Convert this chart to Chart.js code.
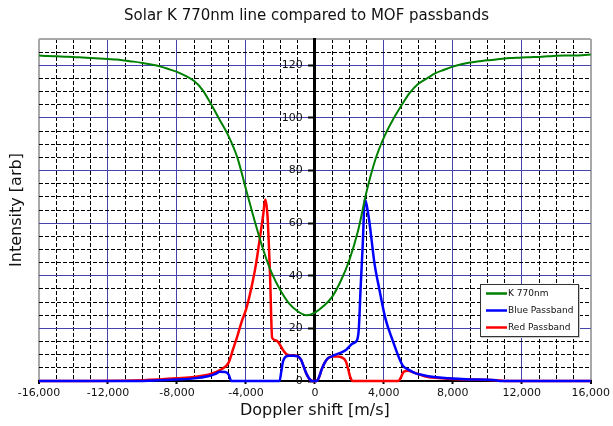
<!DOCTYPE html>
<html>
<head>
<meta charset="utf-8">
<title>Solar K 770nm line compared to MOF passbands</title>
<script src="https://cdn.jsdelivr.net/npm/chart.js@4.4.1/dist/chart.umd.min.js"></script>
<style>
  html, body { margin: 0; padding: 0; background: #fff; }
  canvas { display: block; }
</style>
</head>
<body>
<canvas id="chart" width="613" height="426"></canvas>
<script>
// Doppler shift [m/s] and intensity, one pair of arrays per curve
const kShift = [-16000, -15500, -15000, -14500, -14000, -13500, -13000, -12500, -12000, -11500,
  -11000, -10500, -10000, -9500, -9000, -8500, -8000, -7500, -7000, -6500,
  -6000, -5500, -5000, -4500, -4000, -3500, -3000, -2500, -2000, -1500,
  -1000, -500, 0, 500, 1000, 1500, 2000, 2500, 3000, 3500,
  4000, 4500, 5000, 5500, 6000, 6500, 7000, 7500, 8000, 8500,
  9000, 9500, 10000, 10500, 11000, 11500, 12000, 12500, 13000, 13500,
  14000, 14500, 15000, 15500, 16000];
const kIntensity = [123.7, 123.5, 123.4, 123.3, 123.2, 123.0, 122.8, 122.6, 122.4, 122.2,
  121.8, 121.4, 120.9, 120.3, 119.6, 118.6, 117.5, 116.0, 114.0, 110.5,
  105.0, 99.0, 93.0, 85.0, 73.0, 61.0, 50.0, 41.0, 34.5, 29.5,
  26.5, 25.0, 26.0, 28.5, 32.0, 38.0, 46.0, 57.0, 72.0, 84.0,
  92.5, 99.0, 104.5, 109.5, 113.0, 115.0, 117.0, 118.3, 119.5, 120.4,
  121.1, 121.5, 121.9, 122.2, 122.6, 122.8, 123.0, 123.1, 123.2, 123.4,
  123.6, 123.7, 123.7, 123.8, 124.1];

const blueShift = [-16000, -10500, -9000, -8000, -7000, -6200, -5800, -5500, -5200, -5000,
  -4850, -2050, -1950, -1850, -1700, -1500, -1250, -1000, -800, -650,
  -500, -320, -150, 100, 250, 400, 550, 750, 1000, 1150,
  1400, 1800, 2200, 2450, 2550, 2650, 2770, 2900, 3000, 3150,
  3300, 3450, 3750, 4100, 4500, 4900, 5100, 5400, 5850, 6300,
  6800, 7700, 9000, 10500, 10700, 16000];
const blueIntensity = [0, 0, 0.3, 0.6, 1.0, 1.8, 2.6, 3.5, 3.4, 2.4,
  0, 0, 3.5, 7.4, 9.2, 9.6, 9.6, 9.4, 8.0, 5.5,
  2.9, 0.8, 0, 0, 1.6, 4.5, 6.7, 8.6, 9.4, 9.9,
  10.5, 11.8, 14.3, 15.6, 20.0, 35.0, 51.0, 69.0, 67.0, 61.0,
  53.0, 45.0, 34.5, 23.5, 15.6, 8.5, 5.8, 4.4, 2.9, 2.2,
  1.6, 1.0, 0.6, 0.3, 0, 0];

const redShift = [-16000, -10500, -9000, -8000, -7000, -6000, -5500, -5000, -4750, -4500,
  -4250, -4000, -3800, -3600, -3400, -3200, -3000, -2880, -2750, -2600,
  -2480, -2300, -2150, -2000, -1850, -1600, -1300, -1050, -800, -650,
  -500, -320, -150, 100, 250, 400, 550, 750, 1000, 1300,
  1550, 1800, 1950, 2050, 2200, 4850, 5000, 5150, 5400, 5750,
  6100, 6500, 7400, 8400, 9700, 10500, 11000, 16000];
const redIntensity = [0, 0.2, 0.6, 1.0, 1.5, 2.8, 4.2, 7.0, 12.0, 17.0,
  22.5, 27.0, 32.0, 38.0, 45.0, 54.0, 63.0, 69.0, 63.0, 40.0,
  16.5, 15.5, 15.0, 13.5, 11.8, 10.0, 9.7, 9.6, 8.0, 5.5,
  2.9, 0.8, 0, 0, 1.6, 4.5, 6.7, 8.6, 9.3, 9.3,
  9.0, 7.4, 4.0, 1.5, 0, 0, 1.5, 3.5, 3.9, 3.2,
  2.4, 1.6, 1.0, 0.6, 0.5, 0.3, 0, 0];

const seriesNames = ['K 770nm', 'Blue Passband', 'Red Passband'];
const seriesColors = ['#008000', '#0000ff', '#ff0000'];

const xMin = -16000, xMax = 16000, xMinorStep = 1000, xLabelStep = 4000;
const yMin = 0, yMax = 130, yMinorStep = 5, yLabelStep = 20, yLabelMax = 120;

const gridBlue = '#4444aa';
const frameGray = '#a8a8a8';

function toPoints(xs, ys) {
  return xs.map((x, i) => ({ x: x, y: ys[i] }));
}

function isYLabel(v) {
  return v % yLabelStep === 0 && v <= yLabelMax;
}

// boxed legend sitting inside the plot, lower right
const boxLegend = {
  id: 'boxLegend',
  afterDatasetsDraw(chart) {
    const ctx = chart.ctx;
    const area = chart.chartArea;
    const left = Math.round(area.right - 111), top = Math.round(area.top + 245);
    const w = 98, h = 52;
    ctx.save();
    ctx.fillStyle = '#c8c8c8';
    ctx.fillRect(left + 1, top + 1, w + 1, h + 1);
    ctx.fillStyle = '#fff';
    ctx.fillRect(left, top, w, h);
    ctx.strokeStyle = '#333';
    ctx.lineWidth = 1;
    ctx.strokeRect(left + 0.5, top + 0.5, w, h);
    ctx.font = '9px "DejaVu Sans"';
    ctx.textBaseline = 'middle';
    chart.data.datasets.forEach((ds, i) => {
      const y = top + 9.5 + i * 17;
      ctx.strokeStyle = ds.borderColor;
      ctx.lineWidth = 2.5;
      ctx.beginPath();
      ctx.moveTo(left + 6, y);
      ctx.lineTo(left + 27, y);
      ctx.stroke();
      ctx.fillStyle = '#111';
      ctx.fillText(ds.label, left + 28, y);
    });
    ctx.restore();
  }
};

Chart.defaults.font.family = '"DejaVu Sans", sans-serif';
Chart.defaults.color = '#111';

const ctx = document.getElementById('chart').getContext('2d');
const chart = new Chart(ctx, {
  type: 'line',
  data: {
    datasets: [
      { label: seriesNames[0], data: toPoints(kShift, kIntensity), borderColor: seriesColors[0], borderWidth: 2 },
      { label: seriesNames[1], data: toPoints(blueShift, blueIntensity), borderColor: seriesColors[1], borderWidth: 2.5 },
      { label: seriesNames[2], data: toPoints(redShift, redIntensity), borderColor: seriesColors[2], borderWidth: 2.5 }
    ]
  },
  options: {
    responsive: false,
    animation: false,
    parsing: false,
    layout: { padding: 0 },
    elements: {
      point: { radius: 0 },
      line: { cubicInterpolationMode: 'monotone', fill: false }
    },
    datasets: { line: { clip: 6 } },
    plugins: {
      legend: { display: false },
      tooltip: { enabled: false },
      title: {
        display: true,
        text: 'Solar K 770nm line compared to MOF passbands',
        font: { size: 15, weight: 'normal' },
        color: '#111',
        padding: { top: 7, bottom: 14 }
      }
    },
    scales: {
      x: {
        type: 'linear',
        position: 'bottom',
        min: xMin,
        max: xMax,
        afterFit: (scale) => { scale.height = 45; },
        ticks: {
          stepSize: xMinorStep,
          autoSkip: false,
          maxRotation: 0,
          padding: 3,
          font: { size: 11 },
          callback: (v) => (v % xLabelStep === 0 ? v.toLocaleString('en-US') : '')
        },
        grid: {
          tickLength: 3,
          color: (c) => {
            const v = c.tick ? c.tick.value : 0;
            if (v === xMin || v === xMax) return frameGray;
            if (v === 0) return '#000';
            return v % xLabelStep === 0 ? gridBlue : '#000';
          },
          lineWidth: (c) => {
            const v = c.tick ? c.tick.value : 0;
            return (v === xMin || v === xMax) ? 2 : 1;
          },
          tickColor: (c) => (c.tick && c.tick.value % xLabelStep === 0 ? '#000' : 'rgba(0,0,0,0)'),
          tickWidth: 2
        },
        border: {
          display: true,
          color: '#000',
          width: 2,
          dash: (c) => {
            if (!c.tick) return [];
            const v = c.tick.value;
            return (v % xLabelStep === 0 || v === xMin || v === xMax) ? [] : [4, 2];
          }
        },
        title: {
          display: true,
          text: 'Doppler shift [m/s]',
          font: { size: 16 },
          color: '#111',
          padding: { top: 0, bottom: 6 }
        }
      },
      // grid, centre axis line and its tick marks
      y: {
        type: 'linear',
        position: { x: 0 },
        min: yMin,
        max: yMax,
        ticks: { stepSize: yMinorStep, autoSkip: false, display: false },
        grid: {
          tickLength: 5,
          color: (c) => {
            const v = c.tick ? c.tick.value : 0;
            if (v === yMax) return frameGray;
            if (v === 0) return '#000';
            return v % yLabelStep === 0 ? gridBlue : '#000';
          },
          lineWidth: (c) => (c.tick && c.tick.value === yMax ? 2 : 1),
          tickColor: (c) => (c.tick && isYLabel(c.tick.value) ? '#000' : 'rgba(0,0,0,0)'),
          tickWidth: 2
        },
        border: {
          display: true,
          color: '#000',
          width: 3,
          dash: (c) => {
            if (!c.tick) return [];
            const v = c.tick.value;
            return (v % yLabelStep === 0 || v === yMax) ? [] : [4, 2];
          }
        }
      },
      // value labels, set just left of the centre axis
      yLabels: {
        type: 'linear',
        position: { x: -700 },
        min: yMin,
        max: yMax,
        ticks: {
          stepSize: yMinorStep,
          autoSkip: false,
          font: { size: 11 },
          callback: (v) => (isYLabel(v) ? String(v) : '')
        },
        grid: { display: false },
        border: { display: false }
      },
      yTitle: {
        type: 'linear',
        position: 'left',
        min: 0,
        max: 1,
        afterFit: (scale) => { scale.width = 39; },
        ticks: { display: false },
        grid: { display: false, drawTicks: false },
        border: { display: false },
        title: {
          display: true,
          text: 'Intensity [arb]',
          font: { size: 16 },
          color: '#111',
          padding: { top: 7, bottom: 0 }
        }
      },
      yPad: {
        type: 'linear',
        position: 'right',
        min: 0,
        max: 1,
        afterFit: (scale) => { scale.width = 21; },
        ticks: { display: false },
        grid: { display: false, drawTicks: false },
        border: { display: false }
      }
    }
  },
  plugins: [boxLegend]
});
</script>
</body>
</html>
